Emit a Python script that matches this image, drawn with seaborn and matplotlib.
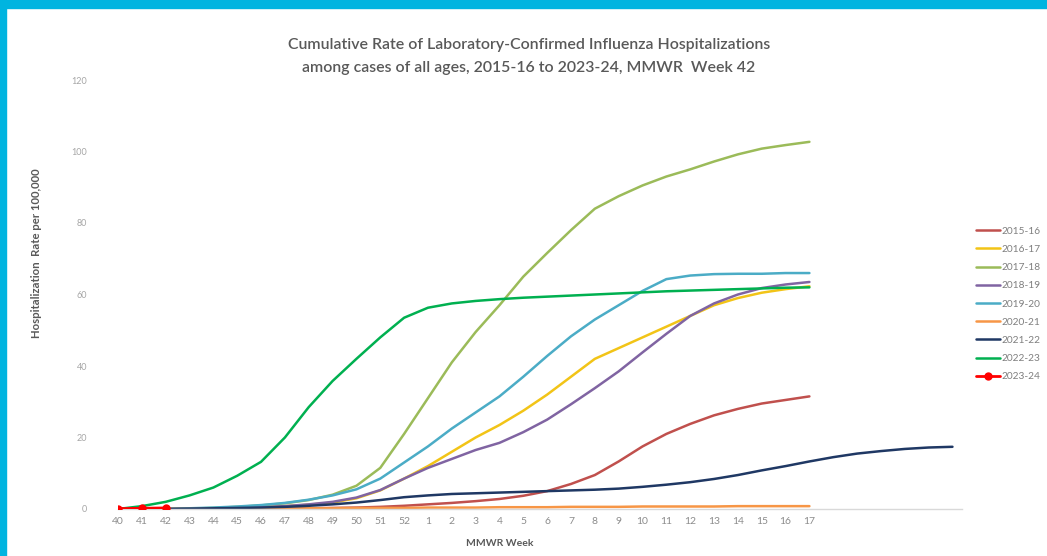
import numpy as np
import pandas as pd
import matplotlib
matplotlib.use("Agg")
import matplotlib.pyplot as plt
from matplotlib.lines import Line2D
from matplotlib.patches import Rectangle
import seaborn as sns

"""weeks on the x axis (MMWR week 40 through 17, then blank slots)"""
week_labels = [str(w) for w in range(40, 53)] + [str(w) for w in range(1, 18)]

"""cumulative rate per 100,000, read off the picture"""
s1516 = [0, 0, 0, 0, 0, 0, 0.1, 0.1, 0.2, 0.3, 0.4, 0.6, 0.9, 1.3, 1.7, 2.2, 2.8, 3.7, 5.0, 7.0,
         9.5, 13.3, 17.5, 21.0, 23.8, 26.2, 28.0, 29.5, 30.5, 31.5]
s1617 = [0, 0, 0, 0.1, 0.2, 0.3, 0.5, 0.8, 1.2, 1.8, 3.0, 5.2, 8.5, 12.0, 16.0, 20.0, 23.5, 27.5, 32.0, 37.0,
         42.0, 45.0, 48.0, 51.0, 54.0, 57.0, 59.0, 60.5, 61.5, 62.3]
s1718 = [0, 0, 0, 0.1, 0.3, 0.6, 1.0, 1.6, 2.5, 4.0, 6.5, 11.5, 21.0, 31.0, 41.0, 49.5, 57.0, 65.0, 71.6, 78.0,
         84.0, 87.5, 90.5, 93.0, 95.0, 97.2, 99.2, 100.8, 101.8, 102.7]
s1819 = [0, 0, 0, 0.1, 0.2, 0.3, 0.5, 0.8, 1.3, 2.0, 3.2, 5.3, 8.5, 11.5, 14.0, 16.5, 18.5, 21.5, 25.0, 29.3,
         33.8, 38.5, 43.8, 49.0, 54.0, 57.5, 60.0, 61.8, 62.8, 63.5]
s1920 = [0, 0, 0, 0.2, 0.4, 0.7, 1.1, 1.7, 2.6, 3.8, 5.5, 8.5, 13.0, 17.5, 22.5, 27.0, 31.5, 37.0, 42.8, 48.3,
         53.0, 57.0, 61.0, 64.3, 65.3, 65.7, 65.8, 65.8, 66.0, 66.0]
s2021 = [0, 0, 0, 0, 0, 0.1, 0.1, 0.1, 0.2, 0.2, 0.3, 0.3, 0.3, 0.4, 0.4, 0.4, 0.5, 0.5, 0.5, 0.6,
         0.6, 0.6, 0.7, 0.7, 0.7, 0.7, 0.8, 0.8, 0.8, 0.8]
s2122 = [0, 0, 0, 0.1, 0.2, 0.3, 0.4, 0.6, 0.9, 1.3, 1.8, 2.5, 3.3, 3.8, 4.2, 4.4, 4.6, 4.8, 5.0, 5.2,
         5.4, 5.7, 6.2, 6.8, 7.5, 8.4, 9.5, 10.8, 12.0, 13.3, 14.5, 15.5, 16.2, 16.8, 17.2, 17.4]
s2223 = [0, 0.8, 2.0, 3.8, 6.0, 9.3, 13.2, 20.0, 28.5, 35.8, 42.0, 48.0, 53.5, 56.3, 57.5, 58.2, 58.7, 59.1, 59.4, 59.7,
         60.0, 60.3, 60.6, 60.9, 61.1, 61.3, 61.5, 61.7, 61.9, 62.0]
s2324 = [0.1, 0.2, 0.3]

seasons = ['2015-16', '2016-17', '2017-18', '2018-19', '2019-20', '2020-21', '2021-22', '2022-23', '2023-24']
values = [s1516, s1617, s1718, s1819, s1920, s2021, s2122, s2223, s2324]
colors = ['#C0504D', '#F2C417', '#9BBB59', '#8064A2', '#4BACC6', '#F79646', '#1F3864', '#00B050', '#FF0000']

"""long table for seaborn"""
rows = []
for season, vals in zip(seasons, values):
    for i, v in enumerate(vals):
        rows.append({'season': season, 'idx': i, 'rate': v})
df = pd.DataFrame(rows)

sns.set_style("white")
plt.rcParams['font.family'] = ['Lato', 'DejaVu Sans']

fig = plt.figure(figsize=(10.47, 5.56), dpi=100)
ax = fig.add_axes([118 / 1047, 1 - 509 / 556, 844 / 1047, 429 / 556])

for season, col in zip(seasons, colors):
    sub = df[df.season == season]
    if season == '2023-24':
        sns.lineplot(data=sub, x='idx', y='rate', color=col, lw=2.0, marker='o', markersize=6,
                     markeredgewidth=0, ax=ax, legend=False, zorder=5)
    else:
        sns.lineplot(data=sub, x='idx', y='rate', color=col, lw=1.8, ax=ax, legend=False)

ax.set_xlim(0, 35.4)
ax.set_ylim(0, 120)
ax.set_xticks(range(len(week_labels)))
ax.set_xticklabels(week_labels, fontsize=7.5, color='#8C8C8C')
ax.set_yticks(range(0, 121, 20))
ax.set_yticklabels([str(v) for v in range(0, 121, 20)], fontsize=6.5, color='#A6A6A6')
ax.tick_params(axis='both', length=0)
ax.tick_params(axis='y', pad=22)
ax.tick_params(axis='x', pad=6)
ax.set_xlabel('')
ax.set_ylabel('')
for side in ['top', 'right', 'left']:
    ax.spines[side].set_visible(False)
ax.spines['bottom'].set_color('#D9D9D9')
ax.spines['bottom'].set_linewidth(1.0)

fig.text(529 / 1047, 1 - 45 / 556, 'Cumulative Rate of Laboratory-Confirmed Influenza Hospitalizations',
         ha='center', va='center', fontsize=11.4, color='#595959', fontweight='semibold')
fig.text(529 / 1047, 1 - 68 / 556, 'among cases of all ages, 2015-16 to 2023-24, MMWR  Week 42',
         ha='center', va='center', fontsize=11.4, color='#595959', fontweight='semibold')
fig.text(500 / 1047, 1 - 543 / 556, 'MMWR Week', ha='center', va='center', fontsize=7.5,
         color='#595959', fontweight='bold')
fig.text(37 / 1047, 1 - 253 / 556, 'Hospitalization  Rate per 100,000', ha='center', va='center',
         rotation=90, fontsize=8.2, color='#595959', fontweight='bold')

handles = []
for season, col in zip(seasons, colors):
    if season == '2023-24':
        handles.append(Line2D([], [], color=col, lw=2.0, marker='o', markersize=6, markeredgewidth=0))
    else:
        handles.append(Line2D([], [], color=col, lw=1.8))
fig.legend(handles, seasons, loc='center left', bbox_to_anchor=(972 / 1047, 1 - 304 / 556),
           frameon=False, fontsize=7.3, labelcolor='#7F7F7F', handlelength=2.4, handletextpad=0.1,
           labelspacing=0.9, borderaxespad=0)

"""cyan frame on top and left edge"""
fig.patches.append(Rectangle((0, 1 - 8 / 556), 1, 8 / 556, transform=fig.transFigure,
                             color='#00B4E0', zorder=10))
fig.patches.append(Rectangle((0, 0), 6 / 1047, 1, transform=fig.transFigure,
                             color='#00B4E0', zorder=10))

fig.savefig('out.png', dpi=100)
